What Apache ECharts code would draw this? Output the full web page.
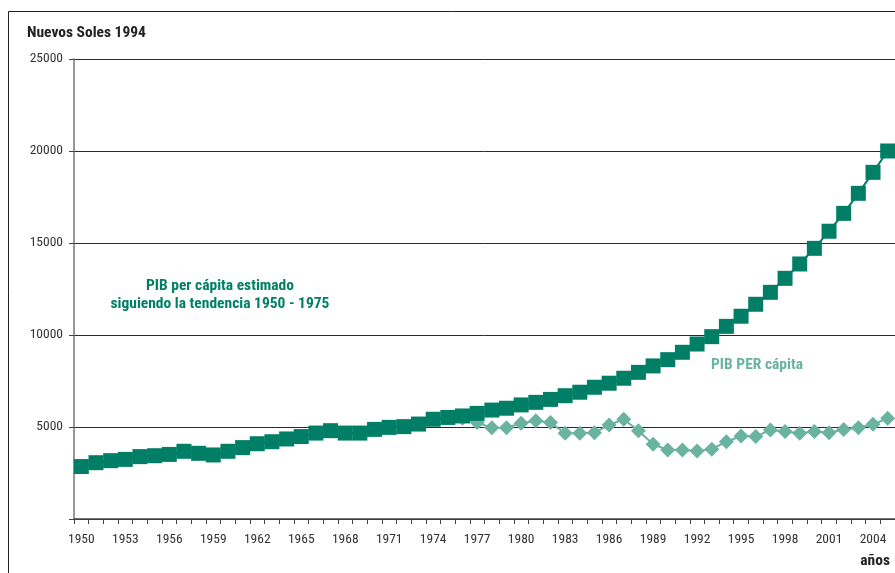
<!DOCTYPE html>
<html>
<head>
<meta charset="utf-8">
<script src="https://cdn.jsdelivr.net/npm/echarts@6/dist/echarts.min.js"></script>
<style>
html,body{margin:0;padding:0;background:#fff;}
#chart{width:895px;height:573px;}
</style>
</head>
<body>
<div id="chart"></div>
<script>
var years = [];
for (var y = 1950; y <= 2005; y++) years.push(String(y));

// PIB per cápita estimado siguiendo la tendencia 1950 - 1975
var estimado = [
  2850, 3060, 3170, 3240, 3390, 3440, 3510, 3680, 3570, 3480,
  3680, 3880, 4090, 4200, 4350, 4480, 4670, 4800, 4670, 4670,
  4870, 4980, 5020, 5160, 5420, 5520, 5600, 5740, 5920, 6020,
  6200, 6340, 6500, 6700, 6890, 7160, 7380, 7650, 7970, 8320,
  8660, 9060, 9510, 9910, 10470, 11020, 11670, 12320, 13080, 13860,
  14710, 15640, 16610, 17700, 18840, 20000
];

// PIB PER cápita (observado)
var observado = [
  2850, 3060, 3170, 3240, 3390, 3440, 3510, 3680, 3570, 3480,
  3680, 3880, 4090, 4200, 4350, 4480, 4670, 4800, 4670, 4670,
  4870, 4980, 5020, 5160, 5420, 5520, 5470, 5240, 4960, 4960,
  5200, 5340, 5240, 4660, 4660, 4690, 5110, 5420, 4800, 4060,
  3750, 3750, 3700, 3790, 4200, 4510, 4480, 4840, 4750, 4660,
  4750, 4690, 4870, 4960, 5150, 5470
];

var yTicks = [0, 5000, 10000, 15000, 20000, 25000];

var FONT = "'Roboto Condensed', 'DejaVu Sans Condensed', sans-serif";
var DARK = '#007f66';
var LIGHT = '#6ab3a1';

var chart = echarts.init(document.getElementById('chart'), null, {renderer: 'canvas'});
chart.setOption({
  animation: false,
  backgroundColor: '#ffffff',
  grid: {left: 74, top: 59, bottom: 54, width: 823, containLabel: false},
  xAxis: {
    type: 'category',
    data: years,
    boundaryGap: true,
    axisLine: {lineStyle: {color: '#444', width: 1.5}},
    axisTick: {show: true, interval: 0, length: 5, lineStyle: {color: '#444', width: 1}},
    axisLabel: {interval: 2, color: '#333', fontFamily: FONT, fontSize: 13.5, margin: 14}
  },
  yAxis: {
    type: 'value',
    min: yTicks[0],
    max: yTicks[yTicks.length - 1],
    interval: 5000,
    axisLine: {show: true, lineStyle: {color: '#777', width: 1.5}},
    axisTick: {show: true, length: 5, lineStyle: {color: '#444'}},
    axisLabel: {
      color: '#333', fontFamily: FONT, fontSize: 13.5, margin: 11,
      formatter: function (v) { return v === 0 ? '' : String(v); }
    },
    splitLine: {show: true, lineStyle: {color: '#2a2a2a', width: 1}}
  },
  series: [
    {
      name: 'PIB PER cápita',
      type: 'line',
      data: observado,
      symbol: 'diamond',
      symbolSize: 15,
      showAllSymbol: true,
      z: 2,
      itemStyle: {color: LIGHT},
      lineStyle: {color: LIGHT, width: 2}
    },
    {
      name: 'PIB per cápita estimado',
      type: 'line',
      data: estimado,
      symbol: 'rect',
      symbolSize: 15,
      showAllSymbol: true,
      z: 3,
      itemStyle: {color: DARK},
      lineStyle: {color: DARK, width: 2}
    }
  ],
  graphic: [
    {type: 'line', shape: {x1: 8.5, y1: 11.5, x2: 900, y2: 11.5}, style: {stroke: '#222', lineWidth: 1}},
    {type: 'line', shape: {x1: 8.5, y1: 11.5, x2: 8.5, y2: 573}, style: {stroke: '#222', lineWidth: 1}},
    {type: 'text', x: 27, y: 33, style: {text: 'Nuevos Soles 1994', font: 'bold 15.5px ' + FONT, fill: '#222', verticalAlign: 'middle'}},
    {type: 'text', x: 890, y: 561, style: {text: 'años', font: 'bold 15.5px ' + FONT, fill: '#222', align: 'right', verticalAlign: 'middle'}},
    {type: 'text', x: 220, y: 286, style: {text: 'PIB per cápita estimado', font: 'bold 15.5px ' + FONT, fill: DARK, align: 'center', verticalAlign: 'middle'}},
    {type: 'text', x: 220, y: 304, style: {text: 'siguiendo la tendencia 1950 - 1975', font: 'bold 15.5px ' + FONT, fill: DARK, align: 'center', verticalAlign: 'middle'}},
    {type: 'text', x: 757, y: 365, style: {text: 'PIB PER cápita', font: 'bold 15.5px ' + FONT, fill: LIGHT, align: 'center', verticalAlign: 'middle'}}
  ]
});
</script>
</body>
</html>
